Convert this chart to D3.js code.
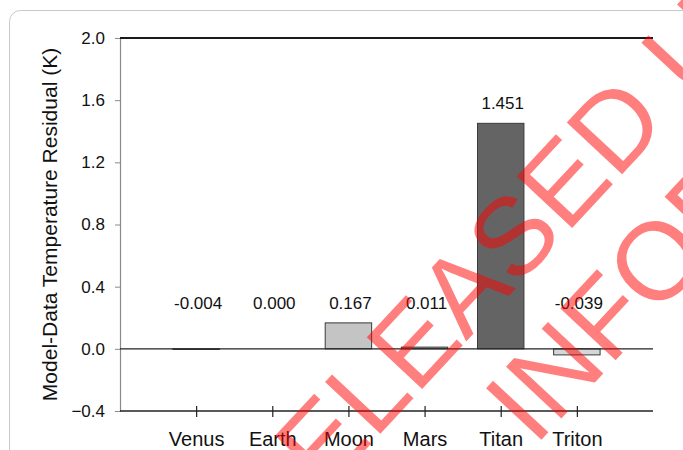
<!DOCTYPE html>
<html>
<head>
<meta charset="utf-8">
<script src="https://cdn.jsdelivr.net/npm/d3@7"></script>
<style>
  html, body { margin: 0; padding: 0; background: #fff; }
  svg { display: block; font-family: Arial, "Liberation Sans", Helvetica, sans-serif; }
</style>
</head>
<body>
<svg id="chart" width="683" height="450"></svg>
<script>
// Model-data temperature residuals per body (K)
const bodies = ["Venus", "Earth", "Moon", "Mars", "Titan", "Triton"];
const residuals = [-0.004, 0.000, 0.167, 0.011, 1.451, -0.039];
const residualLabels = ["-0.004", "0.000", "0.167", "0.011", "1.451", "-0.039"];
const barFills = ["#1a1a1a", "#808080", "#c4c4c4", "#a9a9a9", "#646464", "#d6d6d6"];
const yTicks = [-0.4, 0.0, 0.4, 0.8, 1.2, 1.6, 2.0];
const yTitle = "Model-Data Temperature Residual (K)";
const stampLines = ["RELEASED UNDER", "INFORMATION"];

const svg = d3.select("#chart");
const W = 683, H = 450;
const plot = { left: 120, right: 653, top: 38, bottom: 411 };

// outer card
svg.append("rect")
  .attr("x", 9.5).attr("y", 10.5)
  .attr("width", W + 20).attr("height", H + 20)
  .attr("rx", 11)
  .attr("fill", "#fff")
  .attr("stroke", "#c8c8c8").attr("stroke-width", 1);

const y = d3.scaleLinear().domain([-0.4, 2.0]).range([plot.bottom, plot.top]);
const x = d3.scalePoint().domain(bodies).range([plot.left, plot.right]).padding(1);
const barW = x.step() * 0.61;

// left axis
const yAxis = svg.append("g")
  .attr("transform", `translate(${plot.left},0)`)
  .call(d3.axisLeft(y).tickValues(yTicks).tickFormat(d3.format(".1f")).tickSize(5).tickPadding(10));
yAxis.select(".domain").attr("stroke", "#8a8a8a").attr("stroke-width", 1.2);
yAxis.selectAll(".tick line").attr("stroke", "#8a8a8a");
yAxis.selectAll(".tick text")
  .attr("font-size", 17).attr("fill", "#111")
  .attr("font-family", "Arial, 'Liberation Sans', sans-serif");

// top frame line
svg.append("line")
  .attr("x1", plot.left).attr("x2", plot.right)
  .attr("y1", y(2.0)).attr("y2", y(2.0))
  .attr("stroke", "#1a1a1a").attr("stroke-width", 2);

// bars
svg.append("g").selectAll("rect")
  .data(bodies)
  .join("rect")
  .attr("x", (d) => x(d) - barW / 2)
  .attr("width", barW)
  .attr("y", (d, i) => Math.min(y(residuals[i]), y(0)))
  .attr("height", (d, i) => Math.abs(y(residuals[i]) - y(0)))
  .attr("fill", (d, i) => barFills[i])
  .attr("stroke", "#3a3a3a")
  .attr("stroke-width", 1);

// zero line
svg.append("line")
  .attr("x1", plot.left).attr("x2", plot.right)
  .attr("y1", y(0)).attr("y2", y(0))
  .attr("stroke", "#222").attr("stroke-width", 1.4);

// bottom axis with ticks crossing the line
const xAxis = svg.append("g")
  .attr("transform", `translate(0,${plot.bottom})`)
  .call(d3.axisBottom(x).tickSize(6).tickSizeOuter(0));
xAxis.select(".domain").attr("stroke", "#222").attr("stroke-width", 1.4)
  .attr("d", `M${plot.left},0H${plot.right}`);
xAxis.selectAll(".tick line").attr("y1", -5).attr("y2", 6).attr("stroke", "#222").attr("stroke-width", 1.2);
xAxis.selectAll(".tick text")
  .attr("y", 35).attr("dy", null)
  .attr("font-size", 20).attr("fill", "#111")
  .attr("font-family", "Arial, 'Liberation Sans', sans-serif");

// value labels, kept clear of the short bars
const labelFloor = 0.167;
svg.append("g").selectAll("text")
  .data(bodies)
  .join("text")
  .attr("x", (d) => x(d) + 2)
  .attr("y", (d, i) => y(Math.max(residuals[i], labelFloor)) - 14)
  .attr("text-anchor", "middle")
  .attr("font-size", 17)
  .attr("fill", "#111")
  .text((d, i) => residualLabels[i]);

// y-axis title
svg.append("text")
  .attr("transform", `translate(57,${(plot.top + plot.bottom) / 2}) rotate(-90)`)
  .attr("text-anchor", "middle")
  .attr("font-size", 21)
  .attr("fill", "#111")
  .text(yTitle);

// diagonal release stamp
const stamp = svg.append("g")
  .attr("transform", "translate(270,552) rotate(-47)")
  .attr("fill", "#ff0000")
  .attr("fill-opacity", 0.5)
  .attr("font-size", 110)
  .attr("font-family", "Arial, 'Liberation Sans', sans-serif");
stamp.append("text").attr("x", 0).attr("y", 0).text(stampLines[0]);
stamp.append("text").attr("x", 257).attr("y", 122).text(stampLines[1]);
</script>
</body>
</html>
